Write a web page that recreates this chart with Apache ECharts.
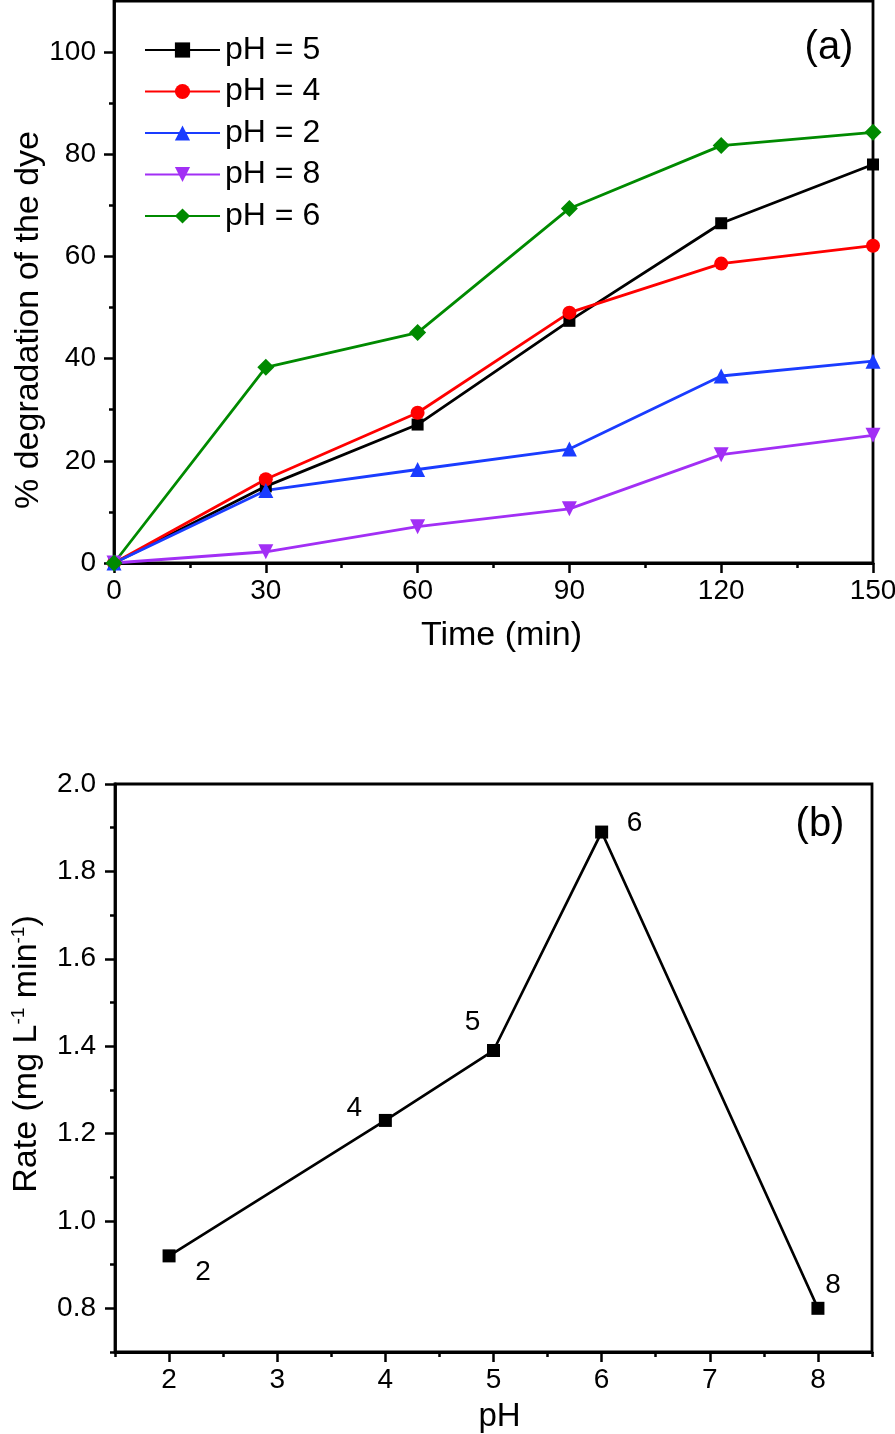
<!DOCTYPE html>
<html>
<head>
<meta charset="utf-8">
<script src="https://cdn.jsdelivr.net/npm/echarts@6/dist/echarts.min.js"></script>
<style>
  html, body { margin: 0; padding: 0; background: #fff; }
  #chart { width: 895px; height: 1434px; }
</style>
</head>
<body>
<div id="chart"></div>
<script>
// panel (a): % degradation vs time
const times = [0, 30, 60, 90, 120, 150];
const seriesNames = ['pH = 5', 'pH = 4', 'pH = 2', 'pH = 8', 'pH = 6'];
const ph5 = [0, 15.0, 27.1, 47.4, 66.5, 78.0];
const ph4 = [0, 16.4, 29.4, 49.0, 58.6, 62.1];
const ph2 = [0, 14.2, 18.3, 22.3, 36.6, 39.5];
const ph8 = [0, 2.2, 7.1, 10.6, 21.2, 25.0];
const ph6 = [0, 38.3, 45.1, 69.4, 81.7, 84.3];

const timeTicks = [0, 30, 60, 90, 120, 150];
const timeMinorTicks = [15, 45, 75, 105, 135];
const degTicks = [0, 20, 40, 60, 80, 100];
const degMinorTicks = [10, 30, 50, 70, 90];

// panel (b): rate vs pH
const phValues = [2, 4, 5, 6, 8];
const rates = [0.92, 1.23, 1.39, 1.89, 0.80];
const phTicks = [2, 3, 4, 5, 6, 7, 8];
const phMinorTicks = [1.5, 2.5, 3.5, 4.5, 5.5, 6.5, 7.5, 8.5];
const rateTicks = [0.8, 1.0, 1.2, 1.4, 1.6, 1.8, 2.0];
const rateMinorTicks = [0.7, 0.9, 1.1, 1.3, 1.5, 1.7, 1.9];

const FONT = "'Liberation Sans', Arial, Helvetica, sans-serif";
const colors = ['#000000', '#ff0000', '#1a3cff', '#a22ff5', '#008a00'];
const symbols = ['rect', 'circle', 'triangle', 'triangle', 'diamond'];
const symbolSizes = [12, 14, 15, 15, 17];
const symbolRotates = [0, 0, 0, 180, 0];
const labelOffsets = [[34, 16], [-31, -12], [-21, -28], [33, -9], [15, -23]];

const chart = echarts.init(document.getElementById('chart'));

function mainAxis(gridIndex, min, max, ticks, pos, extra) {
  return Object.assign({
    type: 'value', gridIndex: gridIndex, min: min, max: max, position: pos,
    axisLine: { show: true, lineStyle: { color: '#000', width: 2.8 } },
    axisTick: { show: true, inside: false, length: 10, customValues: ticks,
      lineStyle: { color: '#000', width: 2.5 } },
    splitLine: { show: false },
    nameLocation: 'middle',
    nameMoveOverlap: false
  }, extra);
}

function minorAxis(gridIndex, min, max, ticks, pos) {
  return {
    type: 'value', gridIndex: gridIndex, min: min, max: max, position: pos,
    axisLine: { show: false },
    axisTick: { show: true, inside: false, length: 5, customValues: ticks,
      lineStyle: { color: '#000', width: 2.5 } },
    axisLabel: { show: false },
    splitLine: { show: false }
  };
}

function tickLabels(ticks, size, margin, fmt) {
  const o = { show: true, customValues: ticks, color: '#000', fontSize: size, fontFamily: FONT, margin: margin };
  if (fmt) o.formatter = fmt;
  return o;
}

const dataA = [ph5, ph4, ph2, ph8, ph6];
const seriesA = dataA.map((vals, i) => ({
  name: seriesNames[i],
  type: 'line',
  xAxisIndex: 0, yAxisIndex: 0,
  data: times.map((t, j) => [t, vals[j]]),
  symbol: symbols[i],
  symbolSize: symbolSizes[i],
  symbolRotate: symbolRotates[i],
  lineStyle: { color: colors[i], width: 2.8 },
  itemStyle: { color: colors[i] }
}));

const seriesB = {
  type: 'line',
  xAxisIndex: 2, yAxisIndex: 2,
  data: phValues.map((p, i) => ({
    value: [p, rates[i]],
    label: { offset: labelOffsets[i] }
  })),
  symbol: 'rect',
  symbolSize: 13,
  lineStyle: { color: '#000', width: 2.7 },
  itemStyle: { color: '#000' },
  label: {
    show: true, position: 'inside', color: '#000', fontSize: 28, fontFamily: FONT,
    formatter: p => String(p.value[0])
  }
};

chart.setOption({
  animation: false,
  backgroundColor: '#fff',
  textStyle: { fontFamily: FONT },
  grid: [
    { left: 114, top: 1, width: 759, height: 562, show: true, borderColor: '#000', borderWidth: 2.8,
      backgroundColor: 'transparent', outerBoundsMode: 'none', containLabel: false },
    { left: 115, top: 784, width: 757, height: 568, show: true, borderColor: '#000', borderWidth: 2.8,
      backgroundColor: 'transparent', outerBoundsMode: 'none', containLabel: false }
  ],
  legend: {
    data: seriesNames,
    orient: 'vertical', left: 144, top: 34, padding: 0,
    itemWidth: 75, itemHeight: 19, itemGap: 9.5,
    textStyle: { color: '#000', fontSize: 32, lineHeight: 30, fontFamily: FONT }
  },
  xAxis: [
    mainAxis(0, 0, 150, timeTicks, 'bottom', { name: 'Time (min)', nameGap: 56,
      axisLabel: tickLabels(timeTicks, 28, 14),
      nameTextStyle: { color: '#000', fontSize: 34, fontFamily: FONT, padding: [0, 0, 0, 16] } }),
    minorAxis(0, 0, 150, timeMinorTicks, 'bottom'),
    mainAxis(1, 1.5, 8.5, phTicks, 'bottom', { name: 'pH', nameGap: 48,
      axisLabel: tickLabels(phTicks, 28, 14),
      nameTextStyle: { color: '#000', fontSize: 33, fontFamily: FONT, padding: [0, 0, 0, 12] } }),
    minorAxis(1, 1.5, 8.5, phMinorTicks, 'bottom')
  ],
  yAxis: [
    mainAxis(0, 0, 110, degTicks, 'left', { name: '% degradation of the dye', nameGap: 68,
      axisLabel: tickLabels(degTicks, 28, 18),
      nameTextStyle: { color: '#000', fontSize: 34, fontFamily: FONT, padding: [0, 76, 0, 0] } }),
    minorAxis(0, 0, 110, degMinorTicks, 'left'),
    mainAxis(1, 0.7, 2.0, rateTicks, 'left', {
      name: 'Rate (mg L{sup|-1} min{sup|-1})', nameGap: 70,
      axisLabel: tickLabels(rateTicks, 28, 19, v => v.toFixed(1)),
      nameTextStyle: { color: '#000', fontSize: 34, fontFamily: FONT, lineHeight: 36, padding: [0, 0, 0, 28],
        rich: { sup: { fontSize: 19, verticalAlign: 'top', lineHeight: 36, color: '#000', fontFamily: FONT } } } }),
    minorAxis(1, 0.7, 2.0, rateMinorTicks, 'left')
  ],
  graphic: [
    { type: 'text', x: 829, y: 48, style: { text: '(a)', fontSize: 40, fontFamily: FONT, fill: '#000',
      textAlign: 'center', textVerticalAlign: 'middle' } },
    { type: 'text', x: 820, y: 825, style: { text: '(b)', fontSize: 40, fontFamily: FONT, fill: '#000',
      textAlign: 'center', textVerticalAlign: 'middle' } }
  ],
  series: seriesA.concat([seriesB])
});
</script>
</body>
</html>
